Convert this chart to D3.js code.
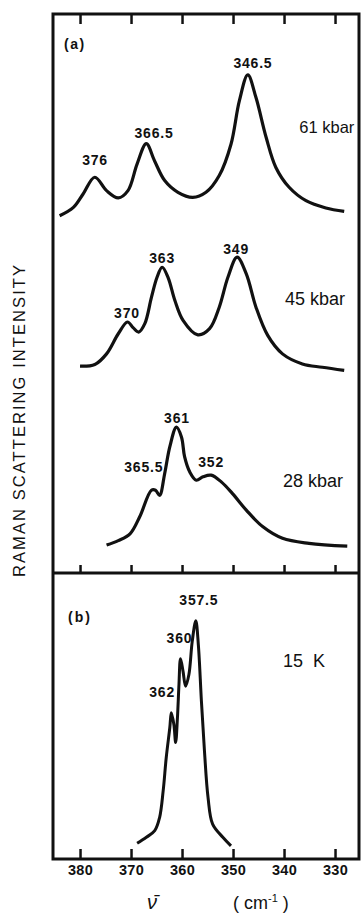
<!DOCTYPE html>
<html>
<head>
<meta charset="utf-8">
<script src="https://cdn.jsdelivr.net/npm/d3@7"></script>
<style>
  body { margin: 0; background: #fff; }
  svg { display: block; }
  text { font-family: "Liberation Sans", Arial, sans-serif; fill: #111; }
</style>
</head>
<body>
<div id="chart"></div>
<script>
// wavenumber ticks (cm-1)
const ticks = [380, 370, 360, 350, 340, 330];

// spectra: [wavenumber, intensity (arb., with offset)]
const spec61 = [
  [384.0, 63.9], [381.3, 65.4], [379.4, 67.8], [377.1, 70.8], [374.8, 68.4],
  [372.5, 67.1], [370.6, 68.4], [368.8, 73.2], [367.0, 76.8], [365.4, 73.75],
  [363.4, 70.2], [360.8, 68.1], [357.9, 67.2], [355.3, 68.1], [352.7, 71.1],
  [350.4, 76.7], [348.75, 84.5], [347.1, 89.1], [345.5, 85.05], [343.5, 77.9],
  [341.6, 72.55], [339.0, 69.0], [335.7, 66.6], [331.8, 65.3], [328.2, 64.7]
];
const spec45 = [
  [380.0, 37.0], [377.1, 37.3], [374.8, 39.2], [372.5, 42.8], [370.7, 44.9],
  [369.6, 43.9], [368.5, 43.1], [367.3, 44.6], [366.0, 49.3], [364.9, 52.9],
  [363.9, 54.7], [362.75, 52.9], [361.4, 48.75], [359.8, 45.2], [356.9, 42.6],
  [354.6, 43.7], [352.7, 47.55], [351.0, 52.9], [349.2, 56.5], [347.4, 53.5],
  [345.5, 47.55], [343.2, 42.5], [340.3, 39.2], [336.4, 37.4], [332.5, 36.8],
  [328.2, 36.25]
];
const spec28 = [
  [374.8, 5.0], [372.5, 5.8], [370.2, 7.0], [368.3, 10.05], [366.0, 14.8],
  [365.2, 14.8], [364.4, 13.9], [363.4, 17.8], [362.4, 22.55], [361.1, 26.1],
  [360.1, 24.3], [359.5, 20.8], [358.5, 18.1], [357.2, 16.6], [355.9, 17.2],
  [354.3, 17.5], [352.3, 16.3], [350.1, 14.2], [347.4, 11.25], [344.2, 8.3],
  [340.3, 6.2], [335.1, 5.3], [327.6, 4.8]
];
const spec15K = [
  [368.8, 5.5], [367.0, 7.6], [365.35, 9.9], [364.4, 14.5], [363.7, 23.8],
  [363.1, 35.4], [362.4, 45.9], [362.1, 51.1], [361.6, 47.0], [361.25, 40.7],
  [360.9, 49.4], [360.6, 61.0], [360.3, 70.0], [359.8, 65.6], [359.3, 60.4],
  [358.65, 64.5], [358.0, 76.1], [357.3, 83.3], [356.8, 74.9], [356.2, 55.2],
  [355.6, 37.7], [354.9, 21.5], [354.0, 12.2], [352.0, 7.6], [350.4, 4.6]
];

// peak annotations: [text, wavenumber, intensity]
const peaksA = [
  ["376", 377.06, 72.9], ["366.5", 365.5, 77.9], ["346.5", 346.1, 90.4],
  ["370", 370.8, 45.7], ["363", 363.9, 55.5], ["349", 349.4, 57.1],
  ["365.5", 367.5, 18.0], ["361", 361.0, 26.8], ["352", 354.3, 18.9]
];
const peaksB = [["357.5", 356.7, 88.9], ["360", 360.5, 75.6], ["362", 363.9, 56.8]];

// condition labels: [text, wavenumber, intensity, size]
const condA = [["61 kbar", 337.0, 78.75, 16.5], ["45 kbar", 339.8, 47.9, 18], ["28 kbar", 340.2, 15.4, 18]];
const condB = [["15  K", 340.2, 67.2, 18]];

const W = 362, H = 913;
const svg = d3.select("#chart").append("svg")
  .attr("width", W).attr("height", H);

const mLeft = 53, mRight = 359, mTop = 14, mMid = 573, mBottom = 859;

const x = d3.scaleLinear().domain([385.3, 325.3]).range([mLeft, mRight]);
const yA = d3.scaleLinear().domain([0, 100]).range([mMid, mTop]);
const yB = d3.scaleLinear().domain([0, 100]).range([mBottom, mMid]);

// frame
svg.append("rect")
  .attr("x", mLeft).attr("y", mTop)
  .attr("width", mRight - mLeft).attr("height", mBottom - mTop)
  .attr("fill", "none").attr("stroke", "#111").attr("stroke-width", 3);
svg.append("line")
  .attr("x1", mLeft).attr("x2", mRight).attr("y1", mMid).attr("y2", mMid)
  .attr("stroke", "#111").attr("stroke-width", 3);

// ticks: top of (a), bottom of (a), bottom of (b)
const tickLen = 10;
svg.append("g").attr("transform", `translate(0,${mTop})`)
  .call(d3.axisBottom(x).tickValues(ticks).tickSize(tickLen).tickFormat(""))
  .call(g => g.select(".domain").remove());
svg.append("g").attr("transform", `translate(0,${mMid})`)
  .call(d3.axisTop(x).tickValues(ticks).tickSize(tickLen - 2).tickFormat(""))
  .call(g => g.select(".domain").remove());
svg.append("g").attr("transform", `translate(0,${mBottom})`)
  .call(d3.axisTop(x).tickValues(ticks).tickSize(tickLen).tickFormat(""))
  .call(g => g.select(".domain").remove());
svg.selectAll(".tick line").attr("stroke", "#111").attr("stroke-width", 2.5);

// tick labels under panel (b)
const xLab = svg.append("g").attr("transform", `translate(0,${mBottom})`)
  .call(d3.axisBottom(x).tickValues(ticks).tickSize(0).tickPadding(6).tickFormat(d3.format("d")));
xLab.select(".domain").remove();
xLab.selectAll("text")
  .style("font-family", "'Liberation Sans', Arial, sans-serif")
  .style("font-size", "14.5px").style("font-weight", "bold")
  .attr("fill", "#111").attr("letter-spacing", "0.3");

// spectra
const lineA = d3.line().x(d => x(d[0])).y(d => yA(d[1])).curve(d3.curveCatmullRom.alpha(0.5));
const lineB = d3.line().x(d => x(d[0])).y(d => yB(d[1])).curve(d3.curveCatmullRom.alpha(0.5));

svg.selectAll("path.specA")
  .data([spec61, spec45, spec28])
  .enter().append("path")
  .attr("class", "specA")
  .attr("d", lineA)
  .attr("fill", "none").attr("stroke", "#111")
  .attr("stroke-width", 3.2).attr("stroke-linejoin", "round");

svg.append("path")
  .datum(spec15K)
  .attr("d", lineB)
  .attr("fill", "none").attr("stroke", "#111")
  .attr("stroke-width", 3).attr("stroke-linejoin", "round");

// peak labels
svg.selectAll("text.peakA")
  .data(peaksA)
  .enter().append("text")
  .attr("x", d => x(d[1])).attr("y", d => yA(d[2]))
  .attr("text-anchor", "middle")
  .attr("font-size", 14).attr("font-weight", "bold").attr("letter-spacing", 0.8)
  .text(d => d[0]);
svg.selectAll("text.peakB")
  .data(peaksB)
  .enter().append("text")
  .attr("x", d => x(d[1])).attr("y", d => yB(d[2]))
  .attr("text-anchor", "middle")
  .attr("font-size", 14).attr("font-weight", "bold").attr("letter-spacing", 0.8)
  .text(d => d[0]);

// condition labels
svg.selectAll("text.condA")
  .data(condA)
  .enter().append("text")
  .attr("x", d => x(d[1])).attr("y", d => yA(d[2]))
  .attr("font-size", d => d[3])
  .text(d => d[0]);
svg.selectAll("text.condB")
  .data(condB)
  .enter().append("text")
  .attr("x", d => x(d[1])).attr("y", d => yB(d[2]))
  .attr("font-size", d => d[3]).attr("xml:space", "preserve").style("white-space", "pre")
  .text(d => d[0]);

// panel tags
svg.append("text").attr("x", 64).attr("y", 49)
  .attr("font-size", 14).attr("font-weight", "bold").attr("letter-spacing", 1.5)
  .text("(a)");
svg.append("text").attr("x", 68).attr("y", 622)
  .attr("font-size", 14).attr("font-weight", "bold").attr("letter-spacing", 2)
  .text("(b)");

// y axis title
svg.append("text")
  .attr("transform", `translate(25,${(265 + 577) / 2}) rotate(-90)`)
  .attr("text-anchor", "middle")
  .attr("font-size", 16.5)
  .attr("textLength", 312).attr("lengthAdjust", "spacing")
  .text("RAMAN  SCATTERING  INTENSITY");

// x axis title
svg.append("text")
  .attr("x", 152).attr("y", 909)
  .attr("text-anchor", "middle")
  .attr("font-size", 20).attr("font-style", "italic")
  .attr("font-family", "'DejaVu Serif', serif")
  .text("\u03BD\u0304");
const unit = svg.append("text")
  .attr("x", 233).attr("y", 909)
  .attr("font-size", 18)
  .attr("xml:space", "preserve").style("white-space", "pre");
unit.append("tspan").text("( cm");
unit.append("tspan").attr("dy", -7).attr("font-size", 11).text("-1");
unit.append("tspan").attr("dy", 7).text(" )");
</script>
</body>
</html>
